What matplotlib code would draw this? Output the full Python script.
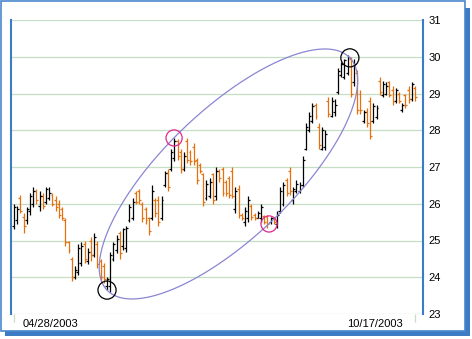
import numpy as np
import matplotlib
matplotlib.use('Agg')
import matplotlib.pyplot as plt
from matplotlib.patches import Rectangle

plt.rcParams['font.family'] = ['Liberation Sans', 'DejaVu Sans']

## Daily OHLC prices (04/28/2003 .. 10/17/2003)
opens  = [25.4, 25.55, 26.15, 25.65, 25.55, 25.8, 26.0, 26.35, 25.95, 26.2,
          26.05, 26.15, 26.25, 26.1, 26.0, 25.85, 25.55, 24.95, 24.5, 24.0,
          24.15, 24.4, 24.9, 24.45, 25.0, 24.6, 24.9, 24.45, 24.3, 23.75,
          23.75, 24.5, 24.75, 25.2, 24.85, 24.8, 25.55, 25.6, 26.3, 26.35,
          26.0, 25.85, 25.6, 25.6, 26.1, 26.1, 25.6, 26.5, 26.85, 26.95,
          27.25, 27.7, 27.4, 26.95, 27.7, 27.4, 27.55, 27.2, 27.05, 26.8,
          26.15, 26.2, 26.8, 26.2, 26.9, 26.95, 26.6, 26.7, 26.9, 25.85,
          26.4, 25.7, 25.5, 25.6, 25.95, 25.7, 25.62, 25.6, 25.68, 25.65,
          25.5, 25.6, 25.45, 25.8, 26.0, 26.65, 26.9, 26.1, 26.35, 26.35,
          26.5, 27.5, 28.0, 28.25, 28.7, 28.1, 27.5, 27.55, 28.8, 28.4,
          28.5, 29.05, 29.5, 29.45, 29.55, 29.95, 29.3, 29.55, 29.0, 28.25,
          28.5, 28.8, 28.25, 28.35, 29.35, 28.95, 29.0, 29.3, 29.1, 28.8,
          29.0, 28.55, 28.95, 29.1, 28.85, 29.15]
highs  = [26.0, 25.95, 26.25, 25.75, 25.9, 26.3, 26.45, 26.4, 26.35, 26.3,
          26.45, 26.45, 26.3, 26.2, 26.1, 25.9, 25.6, 25.0, 24.55, 24.3,
          24.9, 24.95, 25.0, 24.8, 25.1, 25.2, 25.0, 24.5, 24.4, 24.0,
          24.7, 24.95, 25.15, 25.25, 25.35, 25.4, 26.0, 26.15, 26.35, 26.4,
          26.05, 25.9, 25.65, 26.5, 26.15, 26.2, 26.2, 26.9, 26.95, 27.5,
          27.8, 27.75, 27.5, 27.4, 27.8, 27.45, 27.65, 27.25, 27.1, 26.85,
          26.65, 26.7, 26.85, 27.0, 26.95, 27.0, 26.65, 26.75, 27.0, 26.45,
          26.5, 25.75, 25.9, 26.2, 26.0, 25.75, 25.8, 26.0, 25.7, 25.7,
          25.65, 25.65, 25.8, 26.45, 26.6, 26.7, 27.0, 26.45, 26.65, 26.6,
          27.3, 28.2, 28.5, 28.75, 28.75, 28.2, 28.1, 28.0, 28.9, 28.9,
          28.85, 29.7, 29.85, 29.95, 30.05, 30.0, 29.95, 29.65, 29.1, 28.55,
          28.6, 28.9, 28.75, 28.7, 29.45, 29.35, 29.3, 29.35, 29.2, 29.15,
          29.05, 28.75, 29.0, 29.2, 29.3, 29.2]
lows   = [25.3, 25.45, 25.75, 25.2, 25.45, 25.7, 25.9, 26.0, 25.8, 25.85,
          26.0, 26.1, 25.95, 25.8, 25.6, 25.55, 24.85, 24.65, 23.9, 23.95,
          24.05, 24.3, 24.4, 24.35, 24.45, 24.55, 24.25, 23.9, 23.85, 23.65,
          23.6, 24.45, 24.65, 24.5, 24.75, 24.7, 25.5, 25.55, 26.0, 26.0,
          25.5, 25.45, 25.15, 25.55, 25.65, 25.4, 25.55, 26.45, 26.35, 26.9,
          27.15, 27.2, 26.85, 26.9, 27.1, 27.05, 27.05, 26.55, 26.85, 25.95,
          26.1, 26.15, 26.0, 26.1, 26.6, 26.2, 26.2, 26.15, 26.15, 25.75,
          25.6, 25.55, 25.4, 25.5, 25.55, 25.55, 25.6, 25.5, 25.45, 25.35,
          25.45, 25.45, 25.35, 25.75, 25.95, 26.2, 26.25, 26.0, 26.3, 26.3,
          26.45, 27.45, 27.95, 28.2, 28.3, 27.5, 27.45, 27.45, 28.35, 28.35,
          28.4, 29.0, 29.45, 29.4, 29.5, 28.9, 29.2, 28.45, 28.45, 28.2,
          28.1, 27.75, 28.2, 28.3, 28.95, 28.9, 28.95, 28.9, 28.7, 28.75,
          28.75, 28.5, 28.6, 28.75, 28.8, 28.8]
closes = [25.9, 25.85, 25.8, 25.4, 25.85, 26.2, 26.35, 26.1, 26.2, 25.95,
          26.4, 26.3, 26.0, 25.9, 25.7, 25.6, 24.95, 24.75, 24.0, 24.2,
          24.8, 24.85, 24.5, 24.7, 24.6, 25.1, 24.35, 24.0, 23.95, 23.95,
          24.6, 24.9, 25.05, 24.65, 25.3, 25.35, 25.9, 26.05, 26.05, 26.1,
          25.6, 25.55, 25.25, 26.35, 25.75, 25.5, 26.1, 26.85, 26.45, 27.4,
          27.7, 27.3, 26.95, 27.3, 27.2, 27.15, 27.15, 26.65, 26.9, 26.05,
          26.55, 26.6, 26.1, 26.9, 26.7, 26.3, 26.3, 26.25, 26.2, 26.35,
          25.7, 25.6, 25.8, 26.1, 25.65, 25.6, 25.75, 25.9, 25.5, 25.45,
          25.6, 25.5, 25.7, 26.35, 26.5, 26.3, 26.35, 26.4, 26.55, 26.5,
          27.2, 28.1, 28.4, 28.65, 28.4, 27.6, 28.0, 27.9, 28.45, 28.8,
          28.7, 29.6, 29.8, 29.9, 30.0, 29.0, 29.8, 28.55, 28.55, 28.5,
          28.2, 27.85, 28.65, 28.6, 29.05, 29.25, 29.2, 28.95, 28.8, 29.1,
          28.8, 28.7, 28.7, 28.85, 29.25, 28.9]

date_labels = ['04/28/2003', '10/17/2003']

# circled turning points (bar index, price)
black_x = [29.0, 104.7]
black_y = [23.65, 29.97]
pink_x = [49.9, 79.5]
pink_y = [27.79, 25.45]

W, H = 472, 339
fig = plt.figure(figsize=(W / 100, H / 100), dpi=100)

# drop shadow + white panel with blue border
fig.add_artist(Rectangle((5 / W, 3 / H), 465 / W, 328 / H, transform=fig.transFigure,
                         facecolor='#3d7cc4', edgecolor='none', zorder=-3))
fig.add_artist(Rectangle((0.6 / W, 8 / H), 464.5 / W, 330.4 / H, transform=fig.transFigure,
                         facecolor='white', edgecolor='#4a88cc', lw=1.2, zorder=-2))

ax = fig.add_axes([11 / W, 25 / H, 412 / W, 294 / H])
ax.set_facecolor('none')

n = len(opens)
step = 401 / (n - 1)
ax.set_xlim(-3 / step, (n - 1) + 8 / step)
ax.set_ylim(23, 31)

## grid and spines
ax.set_yticks(range(23, 32))
ax.yaxis.grid(True, color='#c4dfc4', lw=0.9)
ax.set_axisbelow(True)
for s in ['top', 'bottom']:
    ax.spines[s].set_visible(False)
for s in ['left', 'right']:
    ax.spines[s].set_color('#3b7cc6')
    ax.spines[s].set_linewidth(1.5)
ax.yaxis.tick_right()
ax.tick_params(axis='y', length=0, pad=3.8, labelsize=8, colors='black')

ax.set_xticks([0, n - 1])
ax.set_xticklabels([])
ax.tick_params(axis='x', length=5.8, width=0.9, color='#c4dfc4', direction='out')
ax.annotate(date_labels[0], (0, 23), xytext=(6.3, -7.3), textcoords='offset points',
            ha='left', va='center', fontsize=8, annotation_clip=False)
ax.annotate(date_labels[1], (n - 1, 23), xytext=(-8.6, -7.3), textcoords='offset points',
            ha='right', va='center', fontsize=8, annotation_clip=False)

## OHLC bars
idx = np.arange(n)
o = np.array(opens); c = np.array(closes)
cols = ['black' if c[i] >= o[i] else '#e8700c' for i in range(n)]
ax.vlines(idx, lows, highs, colors=cols, lw=0.9)
ax.hlines(o, idx - 0.6, idx, colors=cols, lw=0.9)
ax.hlines(c, idx, idx + 0.6, colors=cols, lw=0.9)

## ellipse through the two black circles (computed in pixel space)
p1 = ax.transData.transform((black_x[0], black_y[0]))
p2 = ax.transData.transform((black_x[1], black_y[1]))
cen = (p1 + p2) / 2
a = np.hypot(*(p2 - p1)) / 2
u = (p2 - p1) / (2 * a)
v = np.array([-u[1], u[0]])
b = 64 * fig.dpi / 100
t = np.linspace(0, 2 * np.pi, 500)
pts = cen + np.outer(a * np.cos(t), u) + np.outer(b * np.sin(t), v)
ell = ax.transData.inverted().transform(pts)
ax.plot(ell[:, 0], ell[:, 1], color='#8a86d4', lw=0.9)

ax.scatter(black_x, black_y, s=170, facecolors='none', edgecolors='black', lw=0.9, zorder=5)
ax.scatter(pink_x, pink_y, s=135, facecolors='none', edgecolors='#e0288c', lw=0.9, zorder=5)

fig.savefig('out.png', dpi=100)
